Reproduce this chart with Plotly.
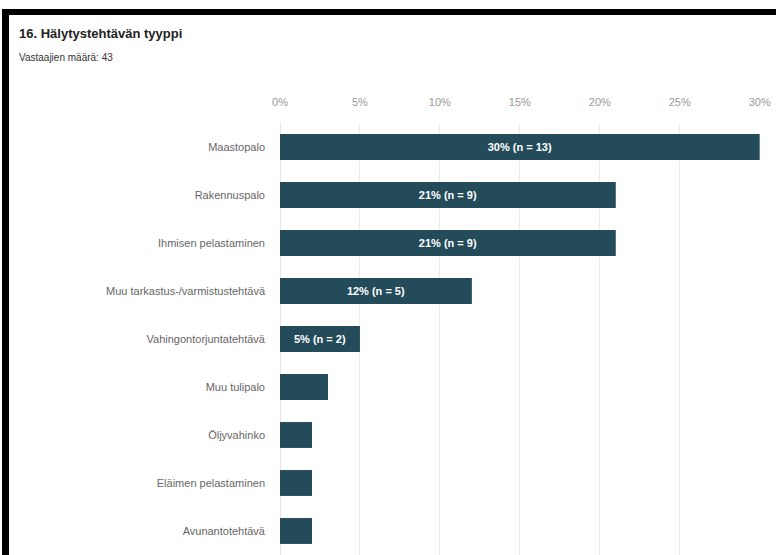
import plotly.graph_objects as go

categories = [
    "Maastopalo",
    "Rakennuspalo",
    "Ihmisen pelastaminen",
    "Muu tarkastus-/varmistustehtävä",
    "Vahingontorjuntatehtävä",
    "Muu tulipalo",
    "Öljyvahinko",
    "Eläimen pelastaminen",
    "Avunantotehtävä",
]
percents = [30, 21, 21, 12, 5, 3, 2, 2, 2]
counts = [13, 9, 9, 5, 2, 1, 1, 1, 1]
tick_vals = [0, 5, 10, 15, 20, 25, 30]
tick_text = ["0%", "5%", "10%", "15%", "20%", "25%", "30%"]
title_text = "16. Hälytystehtävän tyyppi"
subtitle_text = "Vastaajien määrä: 43"

labels = [f"{p}% (n = {n})" if p >= 5 else "" for p, n in zip(percents, counts)]

W, H = 776, 555
ML, MR, MT, MB = 280, 16, 123, 0
PW = W - ML - MR
PH = H - MT - MB


def px(x):
    return (x - ML) / PW


def py(y):
    return (H - MB - y) / PH


fig = go.Figure(
    go.Bar(
        x=percents,
        y=categories,
        orientation="h",
        text=labels,
        textposition="inside",
        insidetextanchor="middle",
        textfont=dict(color="white", size=11, family="Liberation Sans, Arial", weight="bold"),
        marker=dict(color="#244b5a", line=dict(width=0)),
        hoverinfo="skip",
    )
)

fig.update_layout(
    width=W,
    height=H,
    margin=dict(l=ML, r=MR, t=MT, b=MB, pad=0),
    paper_bgcolor="white",
    plot_bgcolor="white",
    bargap=0.46,
    showlegend=False,
    font=dict(family="Liberation Sans, Arial, sans-serif"),
    xaxis=dict(
        side="top",
        range=[0, 30.02],
        tickvals=tick_vals,
        ticktext=tick_text,
        tickfont=dict(size=11, color="#999999"),
        showgrid=True,
        gridcolor="#ececec",
        gridwidth=1,
        zeroline=True,
        zerolinecolor="#e1e7ef",
        zerolinewidth=1,
        showline=False,
        ticks="",
        ticklabelstandoff=14,
        fixedrange=True,
    ),
    yaxis=dict(
        autorange="reversed",
        tickfont=dict(size=11, color="#666666"),
        showgrid=False,
        zeroline=False,
        showline=False,
        ticks="",
        ticklabelstandoff=14,
        fixedrange=True,
    ),
    shapes=[
        dict(type="rect", xref="paper", yref="paper",
             x0=px(2), x1=px(W + 5), y0=py(15), y1=py(9),
             fillcolor="black", line=dict(width=0), layer="above"),
        dict(type="rect", xref="paper", yref="paper",
             x0=px(2), x1=px(9), y0=py(H + 5), y1=py(9),
             fillcolor="black", line=dict(width=0), layer="above"),
    ],
    annotations=[
        dict(text=f"<b>{title_text}</b>", xref="paper", yref="paper",
             x=px(17), y=py(33), xanchor="left", yanchor="middle",
             showarrow=False, font=dict(size=13, color="#222222")),
        dict(text=subtitle_text, xref="paper", yref="paper",
             x=px(17), y=py(58), xanchor="left", yanchor="middle",
             showarrow=False, font=dict(size=10, color="#333333")),
    ],
)

fig.write_html("out.html", config={"displayModeBar": False})
